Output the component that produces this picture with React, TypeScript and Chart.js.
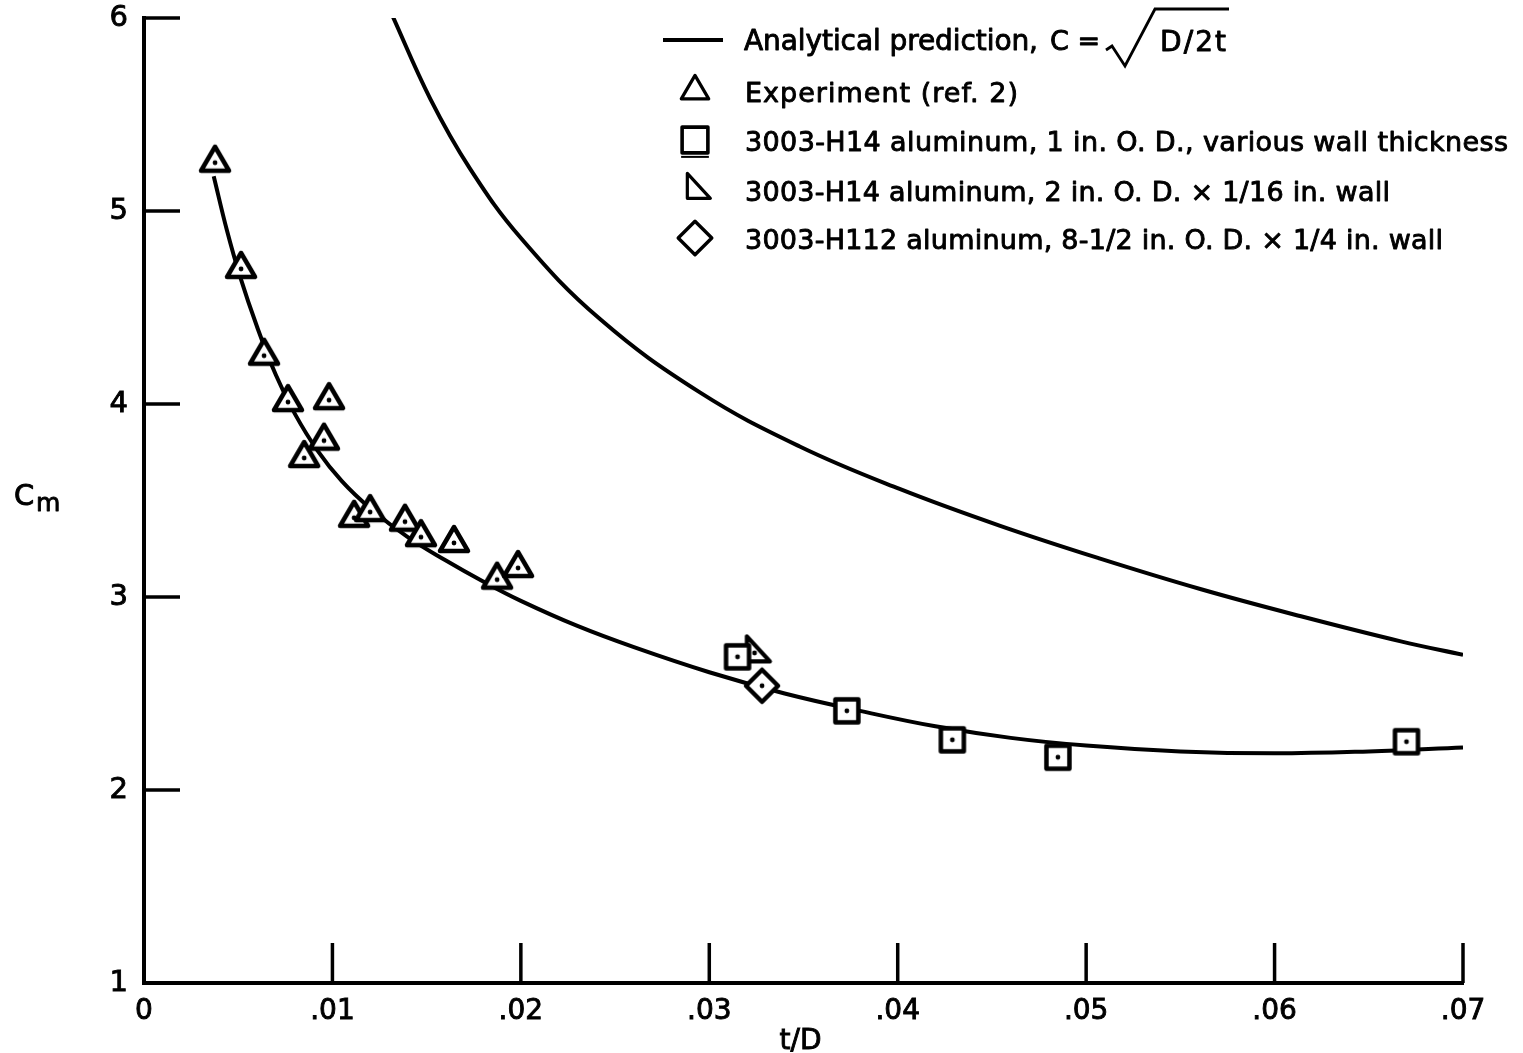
import React, { useEffect, useRef } from 'react';
import { Chart, registerables } from 'chart.js';

Chart.register(...registerables);

// ---- axis ticks ----
const xTicks = [0, 0.01, 0.02, 0.03, 0.04, 0.05, 0.06, 0.07];
const xTickLabels = ['0', '.01', '.02', '.03', '.04', '.05', '.06', '.07'];
const yTicks = [1, 2, 3, 4, 5, 6];
const yTickLabels = ['1', '2', '3', '4', '5', '6'];

// ---- analytical prediction C = sqrt(D/2t) ----
const analyticalT = [0.0131, 0.0152, 0.0173, 0.0200, 0.0242, 0.0295, 0.0348, 0.0401, 0.0454, 0.0507, 0.0561, 0.0614, 0.0667, 0.0700];
const analyticalC = [6.03, 5.58, 5.22, 4.86, 4.44, 4.06, 3.78, 3.56, 3.37, 3.20, 3.04, 2.90, 2.77, 2.70];

// ---- faired curve through the data ----
const fitT = [0.0037, 0.0044, 0.0051, 0.0060, 0.0070, 0.0080, 0.0092, 0.0105, 0.0120, 0.0140, 0.0160, 0.0180, 0.0200, 0.0230, 0.0260, 0.0300, 0.0340, 0.0380, 0.0420, 0.0460, 0.0500, 0.0550, 0.0600, 0.0650, 0.0700];
const fitC = [5.18, 4.90, 4.66, 4.40, 4.15, 3.95, 3.76, 3.60, 3.46, 3.31, 3.19, 3.08, 2.98, 2.85, 2.74, 2.61, 2.50, 2.41, 2.33, 2.27, 2.23, 2.20, 2.19, 2.20, 2.22];

// ---- Experiment (ref. 2) ----
const expT = [0.00377, 0.00515, 0.00637, 0.00764, 0.00982, 0.00955, 0.0085, 0.01115, 0.0120, 0.01385, 0.0147, 0.01645, 0.01874, 0.01985];
const expC = [5.25, 4.70, 4.25, 4.01, 4.02, 3.81, 3.72, 3.41, 3.44, 3.39, 3.31, 3.28, 3.09, 3.15];

// ---- 3003-H14 aluminum, 1 in. O.D., various wall thickness ----
const oneInT = [0.0315, 0.0373, 0.0429, 0.0485, 0.0670];
const oneInC = [2.69, 2.41, 2.26, 2.17, 2.25];

// ---- 3003-H14 aluminum, 2 in. O.D. x 1/16 in. wall ----
const twoInT = [0.0324];
const twoInC = [2.71];

// ---- 3003-H112 aluminum, 8-1/2 in. O.D. x 1/4 in. wall ----
const eightInT = [0.0328];
const eightInC = [2.54];

const FONT = '"DejaVu Sans", sans-serif';

const toXY = (xs: number[], ys: number[]) => xs.map((x, i) => ({ x, y: ys[i] }));

function makeMarker(kind: string, lw: number, dot: boolean, scale = 1, doubleBottom = false): HTMLCanvasElement {
  const S = 60;
  const c = document.createElement('canvas');
  c.width = S;
  c.height = S;
  const g = c.getContext('2d')!;
  g.lineWidth = lw;
  g.strokeStyle = '#000';
  g.fillStyle = '#fff';
  g.lineJoin = 'round';
  const cx = S / 2;
  const cy = S / 2;
  g.beginPath();
  if (kind === 'tri') {
    const w = 28 * scale, h = 24 * scale;
    g.moveTo(cx, cy - (2 * h) / 3);
    g.lineTo(cx + w / 2, cy + h / 3);
    g.lineTo(cx - w / 2, cy + h / 3);
    g.closePath();
  } else if (kind === 'sq') {
    const s = 23 * scale;
    g.rect(cx - s / 2, cy - s / 2, s, s);
  } else if (kind === 'rtri') {
    const w = 23 * scale, h = 25 * scale;
    const L = cx - w / 3, T = cy - (2 * h) / 3;
    g.moveTo(L, T);
    g.lineTo(L + w, T + h);
    g.lineTo(L, T + h);
    g.closePath();
  } else if (kind === 'dia') {
    const r = 16 * scale;
    g.moveTo(cx, cy - r);
    g.lineTo(cx + r, cy);
    g.lineTo(cx, cy + r);
    g.lineTo(cx - r, cy);
    g.closePath();
  }
  g.fill();
  g.stroke();
  if (kind === 'sq' && doubleBottom) {
    const s = 23 * scale;
    g.lineWidth = 2;
    g.beginPath();
    g.moveTo(cx - s / 2 - 1, cy + s / 2 + 4);
    g.lineTo(cx + s / 2 + 1, cy + s / 2 + 4);
    g.stroke();
  }
  if (dot) {
    g.fillStyle = '#000';
    g.beginPath();
    g.arc(cx, cy, 2.4, 0, Math.PI * 2);
    g.fill();
  }
  return c;
}

function drawText(ctx: CanvasRenderingContext2D, text: string, x: number, baseline: number, size: number, right?: number) {
  ctx.font = `${size}px ${FONT}`;
  const anyCtx = ctx as any;
  anyCtx.letterSpacing = '0px';
  if (right !== undefined) {
    const w0 = ctx.measureText(text).width;
    const n = Math.max(1, text.length - 1);
    const ls = (right - x - w0) / n;
    anyCtx.letterSpacing = `${ls}px`;
  }
  ctx.textAlign = 'left';
  ctx.textBaseline = 'alphabetic';
  ctx.lineWidth = 0.9;
  ctx.lineJoin = 'round';
  ctx.fillText(text, x, baseline);
  ctx.strokeText(text, x, baseline);
  anyCtx.letterSpacing = '0px';
}

export default function App() {
  const ref = useRef<HTMLCanvasElement | null>(null);

  useEffect(() => {
    const canvas = ref.current;
    if (!canvas) return;

    const triM = makeMarker('tri', 4.5, true);
    const sqM = makeMarker('sq', 4.5, true);
    const rtriM = makeMarker('rtri', 4.2, true);
    const diaM = makeMarker('dia', 4.5, true);

    const legTri = makeMarker('tri', 3.2, false, 0.98);
    const legSq = makeMarker('sq', 3.6, false, 1.12, true);
    const legRtri = makeMarker('rtri', 3.2, false, 1.0);
    const legDia = makeMarker('dia', 3.4, false, 1.05);

    const decor = {
      id: 'decor',
      afterDraw(chart: any) {
        const ctx: CanvasRenderingContext2D = chart.ctx;
        const xs = chart.scales.x;
        const ys = chart.scales.y;
        const { left, bottom, right } = chart.chartArea;
        ctx.save();
        ctx.strokeStyle = '#000';
        ctx.fillStyle = '#000';
        ctx.lineWidth = 3.5;
        ctx.lineCap = 'butt';
        // inward tick marks
        xTicks.forEach((v) => {
          if (v === xTicks[0]) return;
          const px = xs.getPixelForValue(v);
          ctx.beginPath();
          ctx.moveTo(px, bottom);
          ctx.lineTo(px, bottom - 40);
          ctx.stroke();
        });
        yTicks.forEach((v) => {
          if (v === yTicks[0]) return;
          const py = ys.getPixelForValue(v);
          ctx.beginPath();
          ctx.moveTo(left, py);
          ctx.lineTo(left + 36, py);
          ctx.stroke();
        });

        // axis titles
        ctx.font = `28px ${FONT}`;
        ctx.textAlign = 'center';
        ctx.textBaseline = 'alphabetic';
        ctx.lineWidth = 0.9;
        ctx.fillText('t/D', (left + right) / 2 - 3, 1049);
        ctx.strokeText('t/D', (left + right) / 2 - 3, 1049);
        drawText(ctx, 'C', 14, 505, 29);
        drawText(ctx, 'm', 36, 511, 25);

        // legend
        ctx.lineWidth = 3.8;
        ctx.beginPath();
        ctx.moveTo(663, 40);
        ctx.lineTo(723, 40);
        ctx.stroke();
        drawText(ctx, 'Analytical prediction,', 744, 50, 28, 1038);
        drawText(ctx, 'C=', 1050, 50, 27, 1100);
        // radical sign
        ctx.lineWidth = 2.8;
        ctx.lineJoin = 'miter';
        ctx.beginPath();
        ctx.moveTo(1106, 50);
        ctx.lineTo(1112, 46);
        ctx.lineTo(1125, 66);
        ctx.lineTo(1155, 9);
        ctx.lineTo(1229, 9);
        ctx.stroke();
        drawText(ctx, 'D/2t', 1160, 51, 28, 1226);

        const markerX = 695;
        const rows = [
          { img: legTri, y: 91, text: 'Experiment (ref. 2)', right: 1018 },
          { img: legSq, y: 140, text: '3003-H14 aluminum, 1 in. O. D., various wall thickness', right: 1508 },
          { img: legRtri, y: 190, text: '3003-H14 aluminum, 2 in. O. D. × 1/16 in. wall', right: 1390 },
          { img: legDia, y: 238, text: '3003-H112 aluminum, 8-1/2 in. O. D. × 1/4 in. wall', right: 1443 },
        ];
        rows.forEach((r) => {
          ctx.drawImage(r.img, markerX - r.img.width / 2, r.y - r.img.height / 2);
          drawText(ctx, r.text, 745, r.y + 11, 27, r.right);
        });
        ctx.restore();
      },
    };

    const lineDs = (data: any[], order: number) => ({
      type: 'scatter',
      data,
      showLine: true,
      borderColor: '#000',
      borderWidth: 4,
      pointRadius: 0,
      pointHoverRadius: 0,
      tension: 0.4,
      fill: false,
      order,
    });

    const markerDs = (data: any[], img: HTMLCanvasElement, order: number) => ({
      type: 'scatter',
      data,
      showLine: false,
      pointStyle: img,
      pointRadius: 12,
      pointHoverRadius: 12,
      order,
    });

    const chart = new Chart(canvas, {
      type: 'scatter',
      data: {
        datasets: [
          lineDs(toXY(analyticalT, analyticalC), 10),
          lineDs(toXY(fitT, fitC), 9),
          markerDs(toXY(expT, expC), triM, 3),
          markerDs(toXY(twoInT, twoInC), rtriM, 2),
          markerDs(toXY(eightInT, eightInC), diaM, 1),
          markerDs(toXY(oneInT, oneInC), sqM, 0),
        ] as any,
      },
      options: {
        responsive: false,
        animation: false,
        devicePixelRatio: 1,
        layout: { padding: { top: 18, right: 60, left: 0, bottom: 0 } },
        plugins: {
          legend: { display: false },
          tooltip: { enabled: false },
          title: { display: false },
        },
        events: [],
        scales: {
          x: {
            type: 'linear',
            min: 0,
            max: 0.07,
            grid: { display: false, drawTicks: false },
            border: { display: true, color: '#000', width: 4 },
            afterBuildTicks: (s: any) => {
              s.ticks = xTicks.map((v) => ({ value: v }));
            },
            afterFit: (s: any) => {
              s.height = 70;
              s.paddingLeft = 0;
              s.paddingRight = 0;
            },
            ticks: {
              color: '#000',
              padding: 12,
              font: { family: FONT, size: 28 },
              maxRotation: 0,
              autoSkip: false,
              textStrokeColor: '#000',
              textStrokeWidth: 0.9,
              callback: (v: any) => {
                const i = xTicks.findIndex((t) => Math.abs(t - v) < 1e-9);
                return i >= 0 ? xTickLabels[i] : '';
              },
            },
          },
          y: {
            type: 'linear',
            min: 1,
            max: 6,
            grid: { display: false, drawTicks: false },
            border: { display: true, color: '#000', width: 4 },
            afterBuildTicks: (s: any) => {
              s.ticks = yTicks.map((v) => ({ value: v }));
            },
            afterFit: (s: any) => {
              s.width = 144;
              s.paddingTop = 0;
              s.paddingBottom = 0;
            },
            ticks: {
              color: '#000',
              padding: 16,
              font: { family: FONT, size: 29 },
              autoSkip: false,
              textStrokeColor: '#000',
              textStrokeWidth: 0.9,
              callback: (v: any) => {
                const i = yTicks.findIndex((t) => Math.abs(t - v) < 1e-9);
                return i >= 0 ? yTickLabels[i] : '';
              },
            },
          },
        },
      } as any,
      plugins: [decor as any],
    });

    return () => {
      chart.destroy();
    };
  }, []);

  return (
    <div style={{ position: 'fixed', left: 0, top: 0, width: 1523, height: 1053, background: '#fff' }}>
      <canvas ref={ref} width={1523} height={1053} style={{ width: 1523, height: 1053, display: 'block' }} />
    </div>
  );
}
